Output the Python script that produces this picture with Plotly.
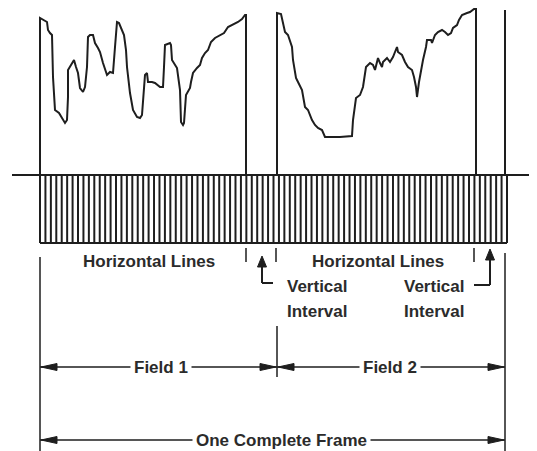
import plotly.graph_objects as go

# ---- data (x in horizontal scan time units, level above blanking) ----
# Field 1 video waveform (x, picture-row) pairs
field1_x = [40, 40, 47, 48, 50, 52, 53, 55, 59, 62, 65, 67, 68, 68, 72, 74, 76, 78, 80, 83, 85, 87, 88, 90,
            93, 95, 98, 100, 103, 105, 107, 110, 113, 115, 117, 119, 122, 124, 126, 127, 130, 133, 137,
            140, 142, 143, 145, 147, 148, 152, 155, 160, 163, 164, 165, 170, 171, 172, 174, 177, 180, 181,
            183, 184, 186, 188, 190, 191, 193, 197, 200, 202, 205, 208, 211, 215, 220, 224, 228, 232, 235,
            238, 242, 245, 246, 246]
field1_row = [175, 18, 22, 30, 33, 35, 77, 110, 113, 118, 123, 120, 97, 70, 63, 60, 67, 73, 88, 92, 87, 67, 37,
              35, 35, 43, 48, 52, 63, 70, 75, 72, 73, 47, 22, 23, 30, 35, 50, 67, 93, 110, 117, 118, 115,
              100, 75, 73, 82, 82, 83, 87, 87, 67, 45, 43, 45, 60, 63, 68, 90, 122, 125, 123, 95, 92, 88,
              82, 73, 68, 65, 58, 53, 50, 42, 38, 35, 33, 27, 25, 23, 22, 19, 15, 15, 175]

field2_x = [277, 277, 281, 283, 285, 288, 292, 293, 296, 298, 302, 305, 308, 312, 315, 318, 322, 325, 330,
            340, 352, 353, 356, 360, 363, 366, 370, 373, 375, 377, 378, 380, 382, 383, 387, 390, 393, 395,
            397, 398, 402, 405, 408, 412, 414, 416, 417, 419, 421, 423, 426, 427, 431, 432, 435, 438, 442,
            445, 448, 451, 453, 457, 459, 462, 467, 470, 474, 476, 476]
field2_row = [175, 13, 14, 23, 32, 35, 47, 60, 78, 82, 90, 107, 110, 120, 125, 128, 130, 137, 137, 137, 136,
              120, 98, 95, 87, 67, 63, 65, 70, 62, 58, 63, 67, 62, 58, 62, 57, 52, 47, 52, 55, 62, 67, 70,
              77, 87, 97, 82, 70, 60, 47, 40, 40, 43, 35, 32, 30, 32, 35, 33, 28, 25, 20, 15, 13, 12, 9,
              9, 175]

frame_end_x = 505
frame_end_top_row = 10
baseline_row = 175
comb_left, comb_right = 40, 507
comb_bottom_row = 243
n_comb_lines = 87

labels_hl = ["Horizontal Lines", "Horizontal Lines"]
labels_hl_x = [149, 378]
vi_x = [317, 434]

W, H = 537, 451
PAGE_MARGIN = 8  # default body margin of the html page
INK = "#1e1e1e"
TXT = "#2b2b2b"
FONT = "Liberation Sans, Arial, sans-serif"
FS = 17


def lv(row):
    """Convert picture row to level above blanking."""
    return baseline_row - row


fig = go.Figure()

line_style = dict(color=INK, width=2)
fig.add_trace(go.Scatter(x=field1_x, y=[lv(r) for r in field1_row], mode="lines",
                         line=line_style, hoverinfo="skip"))
fig.add_trace(go.Scatter(x=field2_x, y=[lv(r) for r in field2_row], mode="lines",
                         line=line_style, hoverinfo="skip"))
fig.add_trace(go.Scatter(x=[frame_end_x, frame_end_x], y=[lv(frame_end_top_row), 0], mode="lines",
                         line=line_style, hoverinfo="skip"))

# baseline
fig.add_trace(go.Scatter(x=[12, W], y=[0, 0], mode="lines", line=line_style, hoverinfo="skip"))

# comb of sync pulses
cx, cy = [], []
step = (comb_right - comb_left) / (n_comb_lines - 1)
for i in range(n_comb_lines):
    xx = comb_left + i * step
    cx += [xx, xx, None]
    cy += [0, lv(comb_bottom_row), None]
fig.add_trace(go.Scatter(x=cx, y=cy, mode="lines", line=dict(color=INK, width=2), hoverinfo="skip"))
fig.add_trace(go.Scatter(x=[comb_left, comb_right], y=[lv(comb_bottom_row)] * 2, mode="lines",
                         line=line_style, hoverinfo="skip"))

shapes = []


def seg(x0, r0, x1, r1, w=1.5):
    shapes.append(dict(type="line", x0=x0, y0=lv(r0), x1=x1, y1=lv(r1), xref="x", yref="y",
                       line=dict(color=INK, width=w)))


def head(tx, tr, direction, length, half):
    if direction == "left":
        pts = [(tx, tr), (tx + length, tr - half), (tx + length, tr + half)]
    elif direction == "right":
        pts = [(tx, tr), (tx - length, tr - half), (tx - length, tr + half)]
    else:  # up
        pts = [(tx, tr), (tx - half, tr + length), (tx + half, tr + length)]
    p = "M " + " L ".join(f"{x},{lv(r)}" for x, r in pts) + " Z"
    shapes.append(dict(type="path", path=p, xref="x", yref="y", fillcolor=INK,
                       line=dict(color=INK, width=1)))


# interval tick marks
for tx in [246, 276, 474]:
    seg(tx, 248, tx, 262, 1.5)

# long boundary lines
seg(40, 257, 40, 451, 1.5)
seg(505, 253, 505, 451, 1.5)
seg(277, 326, 277, 377, 1.5)

# vertical interval arrows
seg(262, 262, 262, 283, 2)
seg(262, 283, 273, 283, 2)
head(262, 256, "up", 11, 4.5)
seg(490, 256, 490, 285, 2)
seg(490, 285, 474, 285, 2)
head(490, 249, "up", 11, 4.5)

# field / frame arrows
field_row, frame_row = 367, 440
seg(40, field_row, 277, field_row)
seg(277, field_row, 505, field_row)
seg(40, frame_row, 505, frame_row)
for (tx, d) in [(40, "left"), (277, "right"), (277, "left"), (505, "right")]:
    head(tx + (1 if d == "left" else -1), field_row, d, 16, 3.5)
for (tx, d) in [(40, "left"), (505, "right")]:
    head(tx + (1 if d == "left" else -1), frame_row, d, 16, 3.5)

font = dict(family=FONT, size=FS, color=TXT, weight="bold")
annotations = []
for t, x in zip(labels_hl, labels_hl_x):
    annotations.append(dict(x=x, y=lv(261), text=t, showarrow=False, xref="x", yref="y", font=font))
for x in vi_x:
    annotations.append(dict(x=x, y=lv(286), text="Vertical", showarrow=False, xref="x", yref="y", font=font))
    annotations.append(dict(x=x, y=lv(311), text="Interval", showarrow=False, xref="x", yref="y", font=font))
for t, x, r in [("Field 1", 161, field_row), ("Field 2", 390, field_row),
                ("One Complete Frame", 281, frame_row)]:
    annotations.append(dict(x=x, y=lv(r), text=t, showarrow=False, xref="x", yref="y",
                            bgcolor="white", borderpad=3, font=font))

fig.update_layout(
    width=W - PAGE_MARGIN, height=H - PAGE_MARGIN, margin=dict(l=0, r=0, t=0, b=0),
    paper_bgcolor="white", plot_bgcolor="white", showlegend=False,
    xaxis=dict(range=[PAGE_MARGIN, W], visible=False, fixedrange=True),
    yaxis=dict(range=[lv(H), lv(PAGE_MARGIN)], visible=False, fixedrange=True),
    shapes=shapes, annotations=annotations,
)

fig.write_html("out.html")
